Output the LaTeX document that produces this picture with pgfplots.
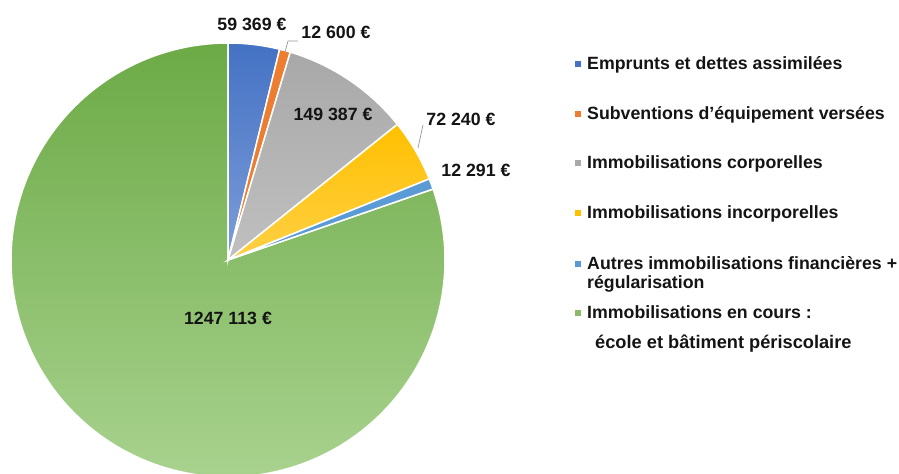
\documentclass[border=0pt]{standalone}
\usepackage{pgfplots}
\pgfplotsset{compat=1.18}
\usepackage{fontspec}
\setmainfont{Liberation Sans}
\usetikzlibrary{shadings}

\definecolor{cBlueT}{RGB}{68,114,196}
\definecolor{cBlueB}{RGB}{125,157,216}
\definecolor{cOrange}{RGB}{237,125,49}
\definecolor{cGrayT}{RGB}{168,168,168}
\definecolor{cGrayB}{RGB}{192,192,192}
\definecolor{cYelT}{RGB}{255,192,0}
\definecolor{cYelB}{RGB}{255,208,70}
\definecolor{cLBlue}{RGB}{91,155,213}
\definecolor{cGreenT}{RGB}{108,170,70}
\definecolor{cGreenM}{RGB}{152,200,122}
\definecolor{cGreenB}{RGB}{168,210,142}
\definecolor{txt}{RGB}{20,20,20}
\definecolor{lead}{RGB}{150,150,150}

% values (EUR)
\def\vA{59369}   % Emprunts et dettes assimilees
\def\vB{12600}   % Subventions d'equipement versees
\def\vC{149387}  % Immobilisations corporelles
\def\vD{72240}   % Immobilisations incorporelles
\def\vE{12291}   % Autres immobilisations financieres
\def\vF{1247113} % Immobilisations en cours
\edef\tot{\fpeval{\vA+\vB+\vC+\vD+\vE+\vF}}
\edef\aZ{90}
\edef\aA{\fpeval{\aZ-360*\vA/\tot}}
\edef\aB{\fpeval{\aA-360*\vB/\tot}}
\edef\aC{\fpeval{\aB-360*\vC/\tot}}
\edef\aD{\fpeval{\aC-360*\vD/\tot}}
\edef\aE{\fpeval{\aD-360*\vE/\tot}}
\edef\aF{\fpeval{\aE-360*\vF/\tot}}

\def\cx{228}
\def\cy{214}
\def\rr{217}

\newcommand\lbl{\bfseries\fontsize{17.8}{20}\selectfont\color{txt}}

\begin{document}
\begin{tikzpicture}
\begin{axis}[at={(0,0)}, anchor=south west, scale only axis,
  width=899bp, height=474bp, xmin=0, xmax=899, ymin=0, ymax=474,
  hide axis, clip=true]
% wedges
\addplot[draw=white, line width=1.5pt, top color=cGreenT, middle color=cGreenM, bottom color=cGreenB,
  domain=\aF:\aE, samples=160, variable=\t] ({\cx+\rr*cos(\t)},{\cy+\rr*sin(\t)}) -- (axis cs:\cx,\cy) -- cycle;
\addplot[draw=white, line width=1.5pt, top color=cBlueT, bottom color=cBlueB,
  domain=\aA:\aZ, samples=20, variable=\t] ({\cx+\rr*cos(\t)},{\cy+\rr*sin(\t)}) -- (axis cs:\cx,\cy) -- cycle;
\addplot[draw=white, line width=1.5pt, fill=cOrange,
  domain=\aB:\aA, samples=6, variable=\t] ({\cx+\rr*cos(\t)},{\cy+\rr*sin(\t)}) -- (axis cs:\cx,\cy) -- cycle;
\addplot[draw=white, line width=1.5pt, top color=cGrayT, bottom color=cGrayB,
  domain=\aC:\aB, samples=40, variable=\t] ({\cx+\rr*cos(\t)},{\cy+\rr*sin(\t)}) -- (axis cs:\cx,\cy) -- cycle;
\addplot[draw=white, line width=1.5pt, top color=cYelT, bottom color=cYelB,
  domain=\aD:\aC, samples=24, variable=\t] ({\cx+\rr*cos(\t)},{\cy+\rr*sin(\t)}) -- (axis cs:\cx,\cy) -- cycle;
\addplot[draw=white, line width=1.5pt, fill=cLBlue,
  domain=\aE:\aD, samples=6, variable=\t] ({\cx+\rr*cos(\t)},{\cy+\rr*sin(\t)}) -- (axis cs:\cx,\cy) -- cycle;

% leader lines
\draw[lead, line width=0.7pt] (axis cs:285,422) -- (axis cs:288,433) -- (axis cs:298,433);
\draw[lead, line width=0.7pt] (axis cs:418,326) -- (axis cs:423,349);

% data labels
\node[font=\lbl, inner sep=0, anchor=base] at (axis cs:252,443) {59 369 €};
\node[font=\lbl, inner sep=0, anchor=base] at (axis cs:336,435) {12 600 €};
\node[font=\lbl, inner sep=0, anchor=base] at (axis cs:333,353) {149 387 €};
\node[font=\lbl, inner sep=0, anchor=base] at (axis cs:461,348) {72 240 €};
\node[font=\lbl, inner sep=0, anchor=base] at (axis cs:476,297) {12 291 €};
\node[font=\lbl, inner sep=0, anchor=base] at (axis cs:228,149) {1247 113 €};

% legend
\fill[cBlueT]  (axis cs:575,407) rectangle (axis cs:581,413);
\fill[cOrange] (axis cs:575,357) rectangle (axis cs:581,363);
\fill[cGrayT]  (axis cs:575,308) rectangle (axis cs:581,314);
\fill[cYelT]   (axis cs:575,258) rectangle (axis cs:581,264);
\fill[cLBlue]  (axis cs:575,207) rectangle (axis cs:581,213);
\fill[cGreenT!80!white] (axis cs:575,158) rectangle (axis cs:581,164);
\node[font=\lbl, inner sep=0, anchor=base west] at (axis cs:587,404) {Emprunts et dettes assimilées};
\node[font=\lbl, inner sep=0, anchor=base west] at (axis cs:587,354) {Subventions d’équipement versées};
\node[font=\lbl, inner sep=0, anchor=base west] at (axis cs:587,305) {Immobilisations corporelles};
\node[font=\lbl, inner sep=0, anchor=base west] at (axis cs:587,255) {Immobilisations incorporelles};
\node[font=\lbl, inner sep=0, anchor=base west] at (axis cs:587,204) {Autres immobilisations financières +};
\node[font=\lbl, inner sep=0, anchor=base west] at (axis cs:587,185) {régularisation};
\node[font=\lbl, inner sep=0, anchor=base west] at (axis cs:587,155) {Immobilisations en cours :};
\node[font={\bfseries\fontsize{18.3}{21}\selectfont\color{txt}}, inner sep=0, anchor=base west] at (axis cs:595,125) {école et bâtiment périscolaire};
\end{axis}
\pgfresetboundingbox
\path[use as bounding box] (0,0) rectangle (899bp,474bp);
\end{tikzpicture}
\end{document}
